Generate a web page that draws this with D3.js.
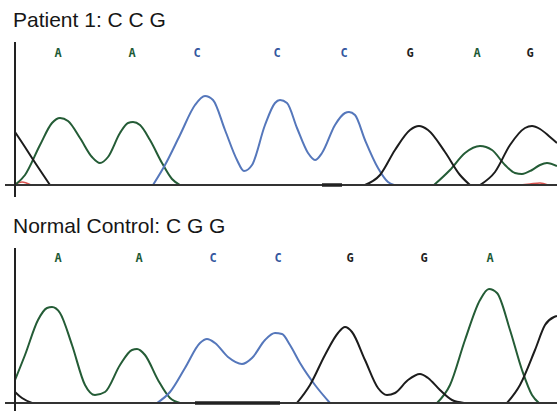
<!DOCTYPE html>
<html><head><meta charset="utf-8">
<script src="https://cdn.jsdelivr.net/npm/d3@7"></script>
<style>html,body{margin:0;padding:0;background:#fff;}svg{display:block;}</style>
</head><body>
<svg id="chart" width="557" height="411"></svg>
<script>
// ---- data (scan position, signal intensity) ----
const titles = ["Patient 1: C C G", "Normal Control: C G G"];

const p1Bases = ["A","A","C","C","C","G","A","G"];
const p1BasePos = [43,117,182,262,329,395,462,515];
const p2Bases = ["A","A","C","C","G","G","A"];
const p2BasePos = [43,124,198,263,335,409,475];

const p1G = [
  [[0,53],[8,41],[17,27],[35,0]],
  [[350,0],[365,10],[380,35],[395,55],[404,59],[413,55],[430,33],[445,10],[455,0]],
  [[465,0],[480,13],[495,40],[510,57],[517,59],[525,56],[535,48],[542,42]]
];
const p1A = [
  [[0,0],[10,10],[25,40],[37,62],[45,67],[53,64],[65,47],[77,28],[85,22],[93,28],[105,52],[113,62],[118,63],[125,60],[135,45],[147,22],[157,6],[165,0]],
  [[419,0],[435,15],[450,32],[465,39],[477,35],[490,20],[500,12],[507,11],[517,15],[525,20],[532,22],[542,19]]
];
const p1C = [
  [[138,0],[150,20],[165,50],[180,80],[190,89],[198,85],[210,55],[222,25],[229,14],[237,20],[250,60],[260,82],[265,85],[272,82],[282,57],[293,32],[300,25],[307,32],[320,60],[330,72],[334,73],[340,70],[350,45],[363,17],[373,3],[379,0]]
];
const p1T = [
  [[0,1],[7,3],[16,0]],
  [[505,0],[515,1],[525,2],[533,0]]
];
const p1Gap = [307,327];

const p2G = [
  [[0,11],[7,5],[17,0]],
  [[282,0],[295,18],[310,48],[323,70],[330,76],[337,71],[350,43],[363,15],[372,8],[380,10],[393,23],[405,29],[413,25],[425,13],[437,3],[449,0]],
  [[492,0],[505,18],[520,53],[530,78],[539,86],[542,87]]
];
const p2A = [
  [[0,23],[10,48],[23,83],[32,95],[37,96],[45,90],[57,58],[70,18],[80,8],[90,11],[105,38],[117,53],[122,54],[130,48],[143,23],[155,5],[165,0]],
  [[422,0],[435,18],[450,63],[465,103],[474,114],[482,110],[495,73],[507,33],[517,8],[524,0]]
];
const p2C = [
  [[142,0],[155,11],[170,35],[185,60],[192,64],[200,60],[213,46],[227,39],[237,45],[250,63],[260,70],[267,69],[275,58],[285,40],[300,18],[315,0]]
];
const p2T = [];
const p2Gap = [180,265];

// ---- styles ----
const traceColor = {A:"#245c36", C:"#5577bb", G:"#1c1c1c", T:"#d9534f"};
const labelColor = {A:"#1d5a35", C:"#34579f", G:"#222222", T:"#c0392b"};

const svg = d3.select("#chart");
const x = d3.scaleLinear().domain([0,542]).range([15,557]);

const panels = [
  {title:titles[0], titleY:27, base:185, top:42, labelY:57, bases:p1Bases, pos:p1BasePos, A:p1A, C:p1C, G:p1G, T:p1T, gap:p1Gap},
  {title:titles[1], titleY:233, base:403, top:248, labelY:262, bases:p2Bases, pos:p2BasePos, A:p2A, C:p2C, G:p2G, T:p2T, gap:p2Gap}
];

panels.forEach(p => {
  const y = d3.scaleLinear().domain([0,150]).range([p.base, p.base-150]);
  const g = svg.append("g");

  g.append("text").attr("x",13).attr("y",p.titleY)
    .attr("font-family","Liberation Sans, Arial, sans-serif").attr("font-size",21)
    .attr("fill","#161616").text(p.title);

  g.selectAll("text.base").data(p.bases).join("text")
    .attr("class","base")
    .attr("x",(d,i)=>x(p.pos[i])).attr("y",p.labelY)
    .attr("text-anchor","middle")
    .attr("font-family","DejaVu Sans Mono, monospace").attr("font-weight","bold")
    .attr("font-size",12).attr("fill",d=>labelColor[d]).text(d=>d);

  const line = d3.line().x(d=>x(d[0])).y(d=>y(d[1])).curve(d3.curveMonotoneX);
  ["T","A","C","G"].forEach(ch => {
    g.selectAll("path.tr"+ch).data(p[ch]).join("path")
      .attr("class","tr"+ch)
      .attr("d",line).attr("fill","none")
      .attr("stroke",traceColor[ch]).attr("stroke-width",ch==="T"?1.5:2)
      .attr("stroke-linejoin","round");
  });

  // axes
  const xAxis = d3.axisBottom(x).ticks(0).tickSize(0).tickSizeOuter(0);
  const ax = g.append("g").attr("transform",`translate(0,${p.base})`).call(xAxis);
  ax.select(".domain").attr("d",`M5,0H557`).attr("stroke","#333").attr("stroke-width",2);
  ax.selectAll(".tick").remove();

  const yAxis = d3.axisLeft(y).ticks(0).tickSize(0).tickSizeOuter(0);
  const ay = g.append("g").attr("transform","translate(15,0)").call(yAxis);
  ay.select(".domain").attr("d",`M0,${p.top}V${p.base+12}`).attr("stroke","#222").attr("stroke-width",2);
  ay.selectAll(".tick").remove();

  g.append("line").attr("x1",x(p.gap[0])).attr("x2",x(p.gap[1]))
    .attr("y1",y(0)).attr("y2",y(0)).attr("stroke","#222").attr("stroke-width",3.5);
});
</script>
</body></html>
